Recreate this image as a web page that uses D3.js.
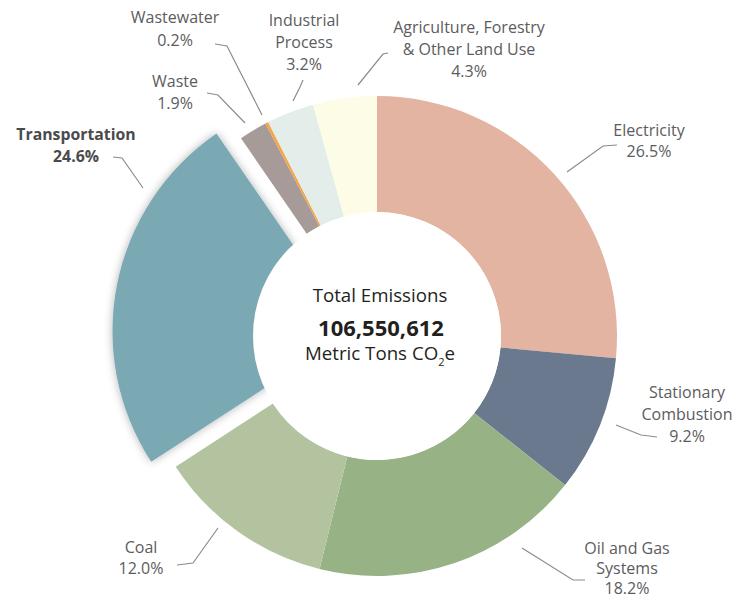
<!DOCTYPE html>
<html>
<head>
<meta charset="utf-8">
<script src="https://cdn.jsdelivr.net/npm/d3@7"></script>
<style>
  html, body { margin: 0; padding: 0; background: #ffffff; }
  svg { display: block; }
  text { font-family: "Open Sans", "DejaVu Sans", sans-serif; }
</style>
</head>
<body>
<svg id="chart" width="737" height="598"></svg>
<script>
// ---- data ----
const categories = [
  "Electricity",
  "Stationary Combustion",
  "Oil and Gas Systems",
  "Coal",
  "Transportation",
  "Waste",
  "Wastewater",
  "Industrial Process",
  "Agriculture, Forestry & Other Land Use"
];
const shares = [26.5, 9.2, 18.2, 12.0, 24.6, 1.9, 0.2, 3.2, 4.3];
const labelLines = [
  ["Electricity"],
  ["Stationary", "Combustion"],
  ["Oil and Gas", "Systems"],
  ["Coal"],
  ["Transportation"],
  ["Waste"],
  ["Wastewater"],
  ["Industrial", "Process"],
  ["Agriculture, Forestry", "& Other Land Use"]
];
const colors = ["#e2b4a1", "#6a798d", "#97b385", "#b3c3a0", "#7aa9b3", "#a69b98", "#f4a74a", "#e3edea", "#fdfce6"];
const explodedCategory = "Transportation";
const totalTitle = "Total Emissions";
const totalValue = "106,550,612";
const totalUnitMain = "Metric Tons CO";
const totalUnitSub = "2";
const totalUnitEnd = "e";

// ---- layout (annotation placement) ----
const cx = 377, cy = 336, outerR = 240, innerR = 124, explode = 25;
const labelLayout = [
  { x: 649, y: 136, gap: 21, leader: [[567,172],[603,146],[617,145]] },
  { x: 687, y: 398, gap: 22, leader: [[616,425],[641,435],[657,437]] },
  { x: 627, y: 554, gap: 20, leader: [[522,548],[573,580],[585,580]] },
  { x: 141, y: 553, gap: 21, leader: [[218,528],[193,563],[177,565]] },
  { x: 76,  y: 140, gap: 22, bold: true, leader: [[143,188],[122,158],[113,157]] },
  { x: 175, y: 87,  gap: 22, leader: [[245,123],[218,95],[207,93]] },
  { x: 175, y: 23,  gap: 23, leader: [[262,115],[227,46],[215,44]] },
  { x: 304, y: 26,  gap: 22, leader: [[293,101],[300,87],[303,80]] },
  { x: 469, y: 33,  gap: 22, leader: [[358,85],[383,54],[388,53]] }
];

const data = categories.map((c, i) => ({ name: c, value: shares[i], color: colors[i], lines: labelLines[i], layout: labelLayout[i] }));

const svg = d3.select("#chart");
const defs = svg.append("defs");
const f = defs.append("filter").attr("id", "shadow").attr("x", "-20%").attr("y", "-20%").attr("width", "140%").attr("height", "140%");
f.append("feGaussianBlur").attr("in", "SourceAlpha").attr("stdDeviation", 4).attr("result", "blur");
f.append("feFlood").attr("flood-color", "#000").attr("flood-opacity", 0.3).attr("result", "col");
f.append("feComposite").attr("in", "col").attr("in2", "blur").attr("operator", "in").attr("result", "sh");
const fm = f.append("feMerge");
fm.append("feMergeNode").attr("in", "sh");
fm.append("feMergeNode").attr("in", "SourceGraphic");

const pie = d3.pie().sort(null).value(d => d.value).startAngle(0).endAngle(2 * Math.PI);
const arc = d3.arc().innerRadius(innerR).outerRadius(outerR);
const wedge = d3.arc().innerRadius(0).outerRadius(outerR);
const arcs = pie(data);

const g = svg.append("g").attr("transform", `translate(${cx},${cy})`);
const ordered = arcs.slice().sort((a, b) => (a.data.name === explodedCategory) - (b.data.name === explodedCategory));
g.selectAll("path.slice").data(ordered).join("path")
  .attr("class", "slice")
  .attr("d", d => d.data.name === explodedCategory ? wedge(d) : arc(d))
  .attr("fill", d => d.data.color)
  .attr("filter", d => d.data.name === explodedCategory ? "url(#shadow)" : null)
  .attr("transform", d => {
    if (d.data.name !== explodedCategory) return null;
    const m = (d.startAngle + d.endAngle) / 2;
    return `translate(${explode * Math.sin(m)},${-explode * Math.cos(m)})`;
  });
// centre hole
g.append("circle").attr("r", innerR).attr("fill", "#ffffff");

// leaders
const line = d3.line();
svg.selectAll("path.leader").data(data).join("path")
  .attr("class", "leader")
  .attr("d", d => line(d.layout.leader))
  .attr("fill", "none")
  .attr("stroke", "#8c8c8c")
  .attr("stroke-width", 1.2);

// labels
const fmt = d3.format(".1f");
data.forEach(d => {
  const L = d.layout;
  const t = svg.append("text")
    .attr("x", L.x).attr("y", L.y)
    .attr("text-anchor", "middle")
    .attr("fill", L.bold ? "#4a4a4c" : "#5c5c5e")
    .attr("font-size", L.bold ? 15.8 : 16)
    .attr("font-weight", L.bold ? 700 : 400);
  const rows = d.lines.concat([fmt(d.value) + "%"]);
  rows.forEach((r, i) => {
    t.append("tspan").attr("x", L.x).attr("y", L.y + i * L.gap).text(r);
  });
});

// center text
svg.append("text").attr("x", 380).attr("y", 302).attr("text-anchor", "middle")
  .attr("font-size", 18.7).attr("fill", "#231f20").text(totalTitle);
svg.append("text").attr("x", 381).attr("y", 336).attr("text-anchor", "middle")
  .attr("font-size", 22).attr("font-weight", 700).attr("fill", "#231f20").text(totalValue);
const u = svg.append("text").attr("x", 380).attr("y", 360).attr("text-anchor", "middle")
  .attr("font-size", 18.7).attr("fill", "#231f20");
u.append("tspan").text(totalUnitMain);
u.append("tspan").attr("font-size", 11).attr("dy", 6).text(totalUnitSub);
u.append("tspan").attr("dy", -6).text(totalUnitEnd);
</script>
</body>
</html>
